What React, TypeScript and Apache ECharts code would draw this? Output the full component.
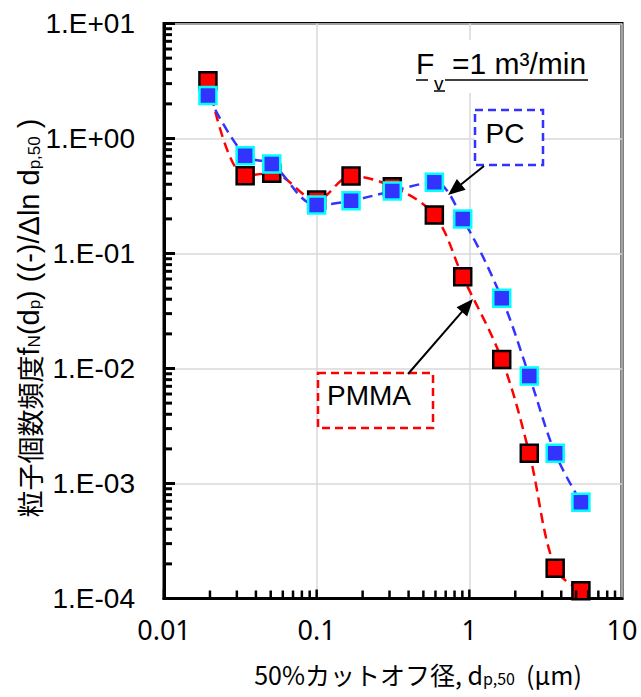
import React, { useEffect, useRef } from "react";
import * as echarts from "echarts";

// Data
const cutoffDiameters = [0.0194, 0.034, 0.0508, 0.1, 0.168, 0.313, 0.59, 0.905, 1.63, 2.47, 3.65, 5.38];
const pmmaValues = [3.18, 0.475, 0.498, 0.292, 0.472, 0.381, 0.216, 0.0629, 0.012, 0.00183, 0.000183, 0.000117];
const pcValues = [2.36, 0.708, 0.6, 0.264, 0.288, 0.349, 0.416, 0.2, 0.0408, 0.0086, 0.00183, 0.000687];
const xTickLabels: Record<string, string> = { "0.01": "0.01", "0.1": "0.1", "1": "1", "10": "10" };
const xDecades = [0.01, 0.1, 1];
const yDecades = [0.0001, 0.001, 0.01, 0.1, 1];
const minorMultipliers = [2, 3, 4, 5, 6, 7, 8, 9];

const X_MIN = 0.01, X_MAX = 10, Y_MIN = 0.0001, Y_MAX = 10;
const GRID = { left: 164, right: 19, top: 23.5, bottom: 98.5 };
const W = 641, H = 697;
const LATIN = "'Liberation Sans', Arial, sans-serif";
const CJK = "'Noto Sans CJK JP', 'Noto Sans', sans-serif";

function arrow(x1: number, y1: number, x2: number, y2: number, len = 17, wid = 14) {
  const dx = x2 - x1, dy = y2 - y1;
  const L = Math.hypot(dx, dy);
  const ux = dx / L, uy = dy / L;
  const bx = x2 - ux * len, by = y2 - uy * len;
  const px = -uy, py = ux;
  return [
    { type: "line", shape: { x1, y1, x2: bx + ux * 2, y2: by + uy * 2 }, style: { stroke: "#000", lineWidth: 2 }, z: 20 },
    {
      type: "polygon",
      shape: { points: [[x2, y2], [bx + px * wid / 2, by + py * wid / 2], [bx - px * wid / 2, by - py * wid / 2]] },
      style: { fill: "#000" },
      z: 20,
    },
  ];
}

export default function App() {
  const ref = useRef<HTMLDivElement>(null);
  useEffect(() => {
    if (!ref.current) return;
    const chart = echarts.init(ref.current, undefined, { renderer: "svg" });
    const pmma = cutoffDiameters.map((x, i) => [x, pmmaValues[i]]);
    const pc = cutoffDiameters.map((x, i) => [x, pcValues[i]]);

    chart.setOption({
      animation: false,
      backgroundColor: "#fff",
      grid: { ...GRID, show: true, borderColor: "#000", borderWidth: 3, backgroundColor: "transparent" },
      xAxis: {
        type: "log",
        logBase: 10,
        min: X_MIN,
        max: X_MAX,
        axisLine: { show: true, lineStyle: { color: "#000", width: 3 } },
        axisTick: { show: false },
        splitLine: { show: true, lineStyle: { color: "#d9d9d9", width: 1.5 } },
        axisLabel: {
          margin: 17,
          fontSize: 27,
          color: "#000",
          fontFamily: "'Noto Sans', sans-serif",
          formatter: (v: number) => {
            const k = String(+v.toPrecision(3));
            return xTickLabels[k] ?? k;
          },
        },
      },
      yAxis: {
        type: "log",
        logBase: 10,
        min: Y_MIN,
        max: Y_MAX,
        axisLine: { show: true, lineStyle: { color: "#000", width: 3 } },
        axisTick: { show: false },
        splitLine: { show: true, lineStyle: { color: "#d9d9d9", width: 1.5 } },
        axisLabel: {
          margin: 29,
          fontSize: 28,
          color: "#000",
          fontFamily: LATIN,
          formatter: (v: number) => {
            const e = Math.round(Math.log10(v));
            const s = String(Math.abs(e)).padStart(2, "0");
            return "1.E" + (e >= 0 ? "+" : "-") + s;
          },
        },
      },
      series: [
        {
          name: "PMMA",
          type: "line",
          data: pmma,
          smooth: 0.35,
          clip: false,
          symbol: "rect",
          symbolSize: 17,
          lineStyle: { color: "#ff0000", width: 2.5, type: [10, 6] },
          itemStyle: { color: "#ff0000", borderColor: "#000", borderWidth: 2.5 },
          z: 6,
        },
        {
          name: "PC",
          type: "line",
          data: pc,
          smooth: 0.35,
          clip: false,
          symbol: "rect",
          symbolSize: 17,
          lineStyle: { color: "#3333ff", width: 2.5, type: [10, 6] },
          itemStyle: { color: "#3333ff", borderColor: "#00ffff", borderWidth: 2.5 },
          z: 7,
        },
      ],
    });

    // Log-axis tick marks (decades and 2..9 minor) drawn as filled bars, positioned through the chart's scales
    const toPx = (x: number, y: number) => chart.convertToPixel({ gridIndex: 0 }, [x, y]) as number[];
    const tickEls: any[] = [];
    const yTickVals: number[][] = [];
    yDecades.forEach((d) => {
      yTickVals.push([d, 11]);
      minorMultipliers.forEach((m) => yTickVals.push([d * m, 8]));
    });
    yTickVals.push([Y_MAX, 11]);
    yTickVals.forEach(([v, len]) => {
      const p = toPx(X_MIN, v);
      tickEls.push({ type: "rect", shape: { x: p[0], y: p[1] - 1.5, width: len, height: 3 }, style: { fill: "#000" }, z: 40 });
    });
    const xTickVals: number[][] = [];
    xDecades.forEach((d) => {
      xTickVals.push([d, 9]);
      minorMultipliers.forEach((m) => xTickVals.push([d * m, 8]));
    });
    xTickVals.forEach(([v, len]) => {
      const p = toPx(v, Y_MIN);
      tickEls.push({ type: "rect", shape: { x: p[0] - 1.25, y: p[1] - len, width: 2.5, height: len }, style: { fill: "#000" }, z: 40 });
    });

    chart.setOption({
      graphic: [
        // Fv annotation
        { type: "rect", shape: { x: 410, y: 40, width: 185, height: 53 }, style: { fill: "#fff" }, z: 10 },
        { type: "text", x: 416, y: 63, style: { text: "F", fontSize: 30, fontFamily: LATIN, fill: "#000", verticalAlign: "middle" }, z: 11 },
        { type: "text", x: 434, y: 83, style: { text: "v", fontSize: 19, fontFamily: LATIN, fill: "#000", verticalAlign: "middle" }, z: 11 },
        { type: "text", x: 452, y: 63, style: { text: "=1 m³/min", fontSize: 30, fontFamily: LATIN, fill: "#000", verticalAlign: "middle" }, z: 11 },
        { type: "line", shape: { x1: 416, y1: 80, x2: 428, y2: 80 }, style: { stroke: "#000", lineWidth: 1.5 }, z: 11 },
        { type: "line", shape: { x1: 434, y1: 91, x2: 445, y2: 91 }, style: { stroke: "#000", lineWidth: 1.5 }, z: 11 },
        { type: "line", shape: { x1: 445, y1: 80, x2: 588, y2: 80 }, style: { stroke: "#000", lineWidth: 1.5 }, z: 11 },
        // PC label
        { type: "rect", shape: { x: 475, y: 110, width: 68, height: 55 }, style: { fill: "#fff", stroke: "#3333ff", lineWidth: 2.5, lineDash: [8, 5] }, z: 10 },
        { type: "text", x: 505, y: 133, style: { text: "PC", fontSize: 28, fontFamily: LATIN, fill: "#000", align: "center", verticalAlign: "middle" }, z: 11 },
        ...arrow(484, 166, 448, 195),
        // PMMA label
        { type: "rect", shape: { x: 318, y: 373, width: 115, height: 55 }, style: { fill: "#fff", stroke: "#ff0000", lineWidth: 2.5, lineDash: [8, 5] }, z: 10 },
        { type: "text", x: 369, y: 395, style: { text: "PMMA", fontSize: 28, fontFamily: LATIN, fill: "#000", align: "center", verticalAlign: "middle" }, z: 11 },
        ...arrow(408, 374, 473, 299),
        // Y axis title
        {
          type: "text",
          x: 27,
          y: 318,
          rotation: Math.PI / 2,
          style: {
            text: "{c|粒子個数頻度}{l|f}{s|N}{l|(d}{s|p}{l|) ((-)/Δln d}{s|p,50}{l| )}",
            align: "center",
            verticalAlign: "middle",
            fill: "#000",
            rich: {
              c: { fontFamily: CJK, fontSize: 27, fill: "#000", lineHeight: 32, verticalAlign: "bottom" },
              l: { fontFamily: LATIN, fontSize: 29, fill: "#000", lineHeight: 32, verticalAlign: "bottom" },
              s: { fontFamily: LATIN, fontSize: 17, fill: "#000", lineHeight: 17, verticalAlign: "bottom" },
            },
          },
          z: 11,
        },
        // X axis title
        {
          type: "text",
          x: 418,
          y: 671,
          style: {
            text: "{c|50%カットオフ径, d}{s|p,50}{c|  (μm)}",
            align: "center",
            verticalAlign: "middle",
            fill: "#000",
            rich: {
              c: { fontFamily: CJK, fontSize: 25, fill: "#000", lineHeight: 30, verticalAlign: "bottom" },
              s: { fontFamily: CJK, fontSize: 16, fill: "#000", lineHeight: 16, verticalAlign: "bottom" },
            },
          },
          z: 11,
        },
        ...tickEls,
      ],
    });
    return () => chart.dispose();
  }, []);
  return <div ref={ref} style={{ position: "fixed", left: 0, top: 0, width: W, height: H }} />;
}
